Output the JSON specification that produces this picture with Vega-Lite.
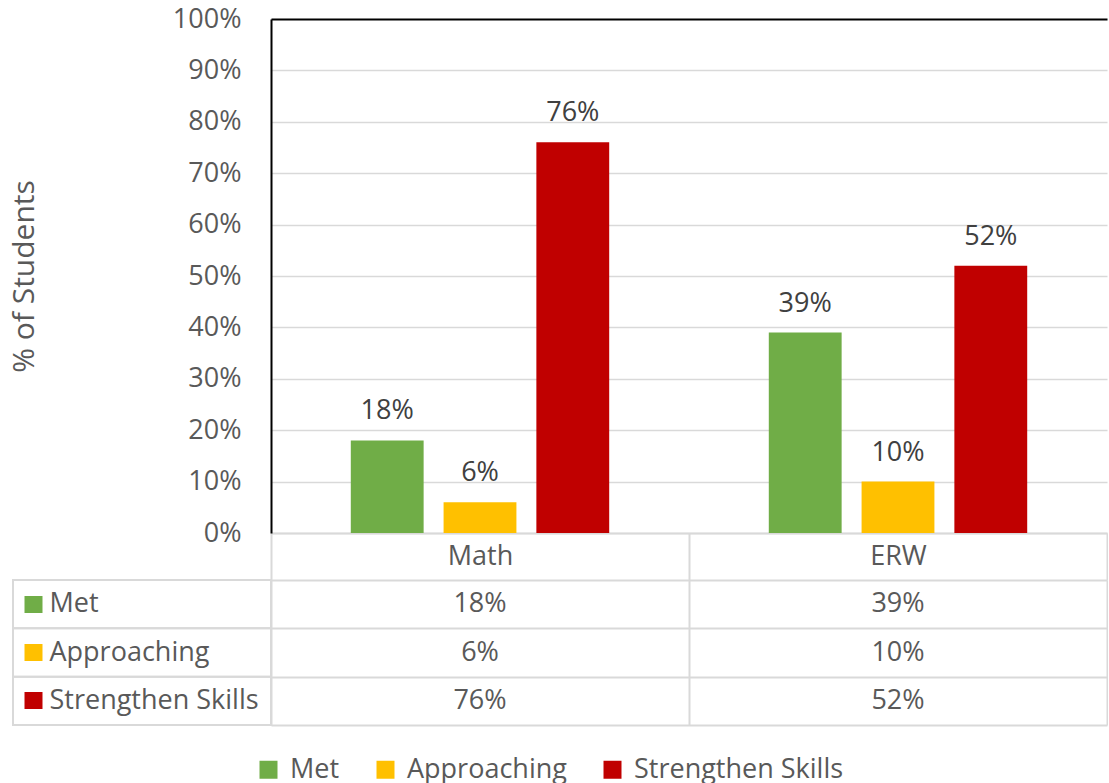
{
  "$schema": "https://vega.github.io/schema/vega-lite/v6.json",
  "padding": {"left": 9, "top": 5, "right": 0, "bottom": 0},
  "background": "white",
  "data": {"values": [
    {"subject": "Math", "series": "Met", "pct": 0.18},
    {"subject": "Math", "series": "Approaching", "pct": 0.06},
    {"subject": "Math", "series": "Strengthen Skills", "pct": 0.76},
    {"subject": "ERW", "series": "Met", "pct": 0.39},
    {"subject": "ERW", "series": "Approaching", "pct": 0.10},
    {"subject": "ERW", "series": "Strengthen Skills", "pct": 0.52}
  ]},
  "columns": 2,
  "bounds": "flush",
  "spacing": {"row": 47, "column": 0},
  "concat": [
    {
      "width": 258,
      "height": 514,
      "mark": {"type": "text"},
      "encoding": {"text": {"value": ""}}
    },
    {
      "width": 836,
      "height": 514,
      "encoding": {
        "x": {"field": "subject", "type": "nominal", "sort": ["Math", "ERW"],
          "scale": {"type": "band", "paddingInner": 0, "paddingOuter": 0},
          "axis": {"title": null, "domainColor": "#d9d9d9", "domainWidth": 2, "ticks": true, "tickBand": "extent",
            "tickColor": "#d9d9d9", "tickWidth": 2, "tickSize": 47, "labelPadding": -24, "labelBaseline": "middle",
            "labelFontSize": 27, "labelColor": "#595959", "labelAngle": 0, "grid": false}},
        "xOffset": {"field": "series", "type": "nominal", "sort": ["Met", "Approaching", "Strengthen Skills"],
          "scale": {"paddingInner": 0.215, "paddingOuter": 0.86}},
        "y": {"field": "pct", "type": "quantitative", "scale": {"domain": [0, 1], "nice": false},
          "axis": {"values": [0, 0.1, 0.2, 0.3, 0.4, 0.5, 0.6, 0.7, 0.8, 0.9, 1], "format": ".0%",
            "title": "% of Students", "titleFontSize": 30, "titleColor": "#595959", "titleFontWeight": "normal", "titlePadding": 133,
            "labelFontSize": 27, "labelColor": "#595959", "labelPadding": 30, "ticks": false,
            "domainColor": "#000000", "domainWidth": 2,
            "gridColor": {"condition": {"test": "datum.value >= 0.999", "value": "#000000"}, "value": "#d9d9d9"},
            "gridWidth": {"condition": {"test": "datum.value >= 0.999", "value": 2}, "value": 1.5}}}
      },
      "layer": [
        {"mark": {"type": "bar"},
         "encoding": {
           "color": {"field": "series", "type": "nominal",
             "scale": {"domain": ["Met", "Approaching", "Strengthen Skills"], "range": ["#70AD47", "#FFC000", "#C00000"]},
             "legend": {"title": null, "orient": "none", "legendX": 242, "legendY": 737, "direction": "horizontal", "symbolType": "square", "symbolSize": 324,
               "labelFontSize": 27, "labelColor": "#595959", "labelOffset": 8, "columnPadding": 32, "labelLimit": 0, "symbolStrokeWidth": 0}}
         }},
        {"mark": {"type": "text", "dy": -21, "baseline": "alphabetic", "fontSize": 27, "color": "#404040"},
         "encoding": {"text": {"field": "pct", "type": "quantitative", "format": ".0%"}}}
      ]
    },
    {
      "width": 258,
      "height": 145,
      "view": {"stroke": "#d9d9d9", "strokeWidth": 2},
      "mark": {"type": "rule", "color": "#d9d9d9", "strokeWidth": 2},
      "encoding": {
        "y": {"field": "series", "type": "nominal", "sort": ["Met", "Approaching", "Strengthen Skills"], "bandPosition": 0,
          "scale": {"type": "band", "paddingInner": 0, "paddingOuter": 0},
          "axis": {"title": null, "domain": false, "grid": false, "ticks": true, "tickBand": "center", "tickSize": 18, "tickWidth": 17,
            "offset": -29,
            "tickColor": {"condition": [{"test": "datum.value === 'Met'", "value": "#70AD47"}, {"test": "datum.value === 'Approaching'", "value": "#FFC000"}], "value": "#C00000"},
            "labelAlign": "left", "labelPadding": -25, "labelFontSize": 27, "labelColor": "#595959", "labelBaseline": "middle", "labelBound": false, "labelLimit": 0}}
      }
    },
    {
      "width": 836,
      "height": 145,
      "mark": {"type": "text", "fontSize": 27, "color": "#595959"},
      "encoding": {
        "x": {"field": "subject", "type": "nominal", "sort": ["Math", "ERW"],
          "scale": {"type": "band", "paddingInner": 0, "paddingOuter": 0},
          "axis": {"title": null, "labels": false, "ticks": false, "domain": false, "grid": true, "tickBand": "extent", "gridColor": "#d9d9d9", "gridWidth": 2}},
        "y": {"field": "series", "type": "nominal", "sort": ["Met", "Approaching", "Strengthen Skills"],
          "scale": {"type": "band", "paddingInner": 0, "paddingOuter": 0},
          "axis": {"title": null, "labels": false, "ticks": false, "domain": false, "grid": true, "tickBand": "extent", "gridColor": "#d9d9d9", "gridWidth": 2}},
        "text": {"field": "pct", "type": "quantitative", "format": ".0%"}
      }
    }
  ],
  "config": {
    "font": "Open Sans",
    "view": {"stroke": null},
    "axis": {"labelFont": "Open Sans", "titleFont": "Open Sans"},
    "legend": {"labelFont": "Open Sans"}
  }
}
